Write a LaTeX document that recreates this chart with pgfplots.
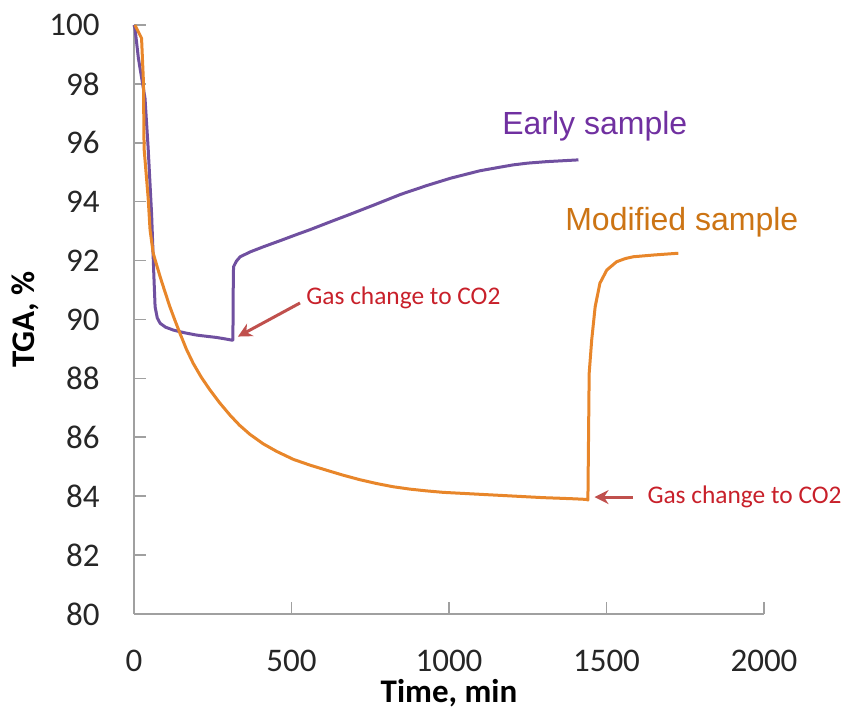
\documentclass[border=0pt]{standalone}
\usepackage{fontspec}
\setmainfont{Carlito}
\newfontfamily\arialfont{Liberation Sans}
\usepackage{pgfplots}
\pgfplotsset{compat=1.18}
\usetikzlibrary{arrows.meta}

\definecolor{earlyline}{RGB}{112,80,160}
\definecolor{earlytext}{RGB}{112,48,160}
\definecolor{modline}{RGB}{232,134,42}
\definecolor{modtext}{RGB}{204,116,20}
\definecolor{annotred}{RGB}{200,32,42}
\definecolor{arrowred}{RGB}{192,80,77}
\definecolor{axisgray}{RGB}{160,160,160}

\begin{document}
\begin{tikzpicture}
  \begin{axis}[
    scale only axis,
    width=315pt, height=294.5pt,
    xmin=0, xmax=2000, ymin=80, ymax=100,
    xtick={0,500,...,2000},
    ytick={80,82,...,100},
    axis x line=bottom, axis y line=left,
    axis line style={-, axisgray, line width=0.8pt},
    tick style={axisgray, line width=0.8pt},
    major tick length=6pt,
    tick align=inside,
    /pgf/number format/assume math mode=true,
    /pgf/number format/1000 sep={},
    ticklabel style={font=\fontsize{16.5}{20}\selectfont, text=black!85},
    yticklabel style={anchor=east, inner sep=0pt, xshift=-17pt},
    xticklabel style={anchor=north, inner sep=0pt, yshift=-18pt},
    xlabel={\textbf{Time, min}},
    ylabel={\textbf{TGA, \%}},
    label style={font=\fontsize{16.5}{20}\selectfont},
    xlabel style={at={(axis description cs:0.5,-0.134)}, anchor=center},
    ylabel style={at={(axis description cs:-0.173,0.5)}, anchor=center},
    clip=false,
  ]
    % Early sample
    \addplot[earlyline, line width=1.5pt, line join=round] coordinates {
      (0,100) (3,99.9) (14,98.87) (35,97.51) (45,95.81) (56,93.55)
      (63,91.51) (67,90.43) (74,90.05) (83,89.87) (100,89.74) (125,89.64)
      (160,89.55) (199,89.47) (230,89.43) (262,89.39) (290,89.34)
      (310,89.30) (314,89.30) (315,91.0) (316,91.79) (325,91.98) (337,92.13)
      (370,92.30) (411,92.47) (470,92.70) (520,92.90) (559,93.05) (624,93.32)
      (688,93.58) (760,93.88) (847,94.25) (930,94.55) (1006,94.8) (1098,95.05)
      (1166,95.18) (1204,95.25) (1250,95.31) (1310,95.36) (1360,95.39)
      (1411,95.42)
    };
    % Modified sample
    \addplot[modline, line width=1.5pt, line join=round] coordinates {
      (3,100) (24,99.55) (30,98.07) (32,95.81) (45,94.12) (51,93.04)
      (61,92.25) (70,91.92) (83,91.45) (98,90.95) (114,90.43) (130,89.97)
      (146,89.53) (166,89.0) (188,88.51) (213,88.05) (241,87.61) (272,87.17)
      (305,86.75) (335,86.41) (368,86.10) (410,85.78) (453,85.52)
      (506,85.25) (560,85.05) (612,84.88) (665,84.71) (717,84.56) (770,84.43)
      (823,84.32) (876,84.24) (929,84.18) (982,84.13) (1035,84.10)
      (1088,84.07) (1141,84.04) (1194,84.01) (1247,83.98) (1300,83.95)
      (1352,83.93) (1400,83.91) (1437,83.89) (1441,83.87) (1443,86.0)
      (1445,88.17) (1453,89.30) (1464,90.43) (1479,91.23) (1501,91.68)
      (1532,91.96) (1560,92.07) (1585,92.13) (1650,92.19) (1728,92.25)
    };
    \node[anchor=west, inner sep=0pt, text=earlytext, font=\arialfont\fontsize{16}{19}\selectfont]
      at (axis cs:1168,96.57) {Early sample};
    \node[anchor=west, inner sep=0pt, text=modtext, font=\arialfont\fontsize{16}{19}\selectfont]
      at (axis cs:1368,93.31) {Modified sample};
    \node[anchor=west, inner sep=0pt, text=annotred, font=\fontsize{12.7}{15}\selectfont]
      at (axis cs:546,90.73) {Gas change to CO2};
    \node[anchor=west, inner sep=0pt, text=annotred, font=\fontsize{12.7}{15}\selectfont]
      at (axis cs:1629,83.97) {Gas change to CO2};
    \draw[arrowred, line width=1.5pt, -{Stealth[length=7pt, width=7pt]}]
      (axis cs:527,90.56) -- (axis cs:330,89.42);
    \draw[arrowred, line width=1.5pt, -{Stealth[length=7pt, width=7pt]}]
      (axis cs:1584,83.97) -- (axis cs:1462,83.97);
  \end{axis}
  \pgfresetboundingbox
  \useasboundingbox (-67pt,-48.5pt) rectangle (357pt,307pt);
\end{tikzpicture}
\end{document}
